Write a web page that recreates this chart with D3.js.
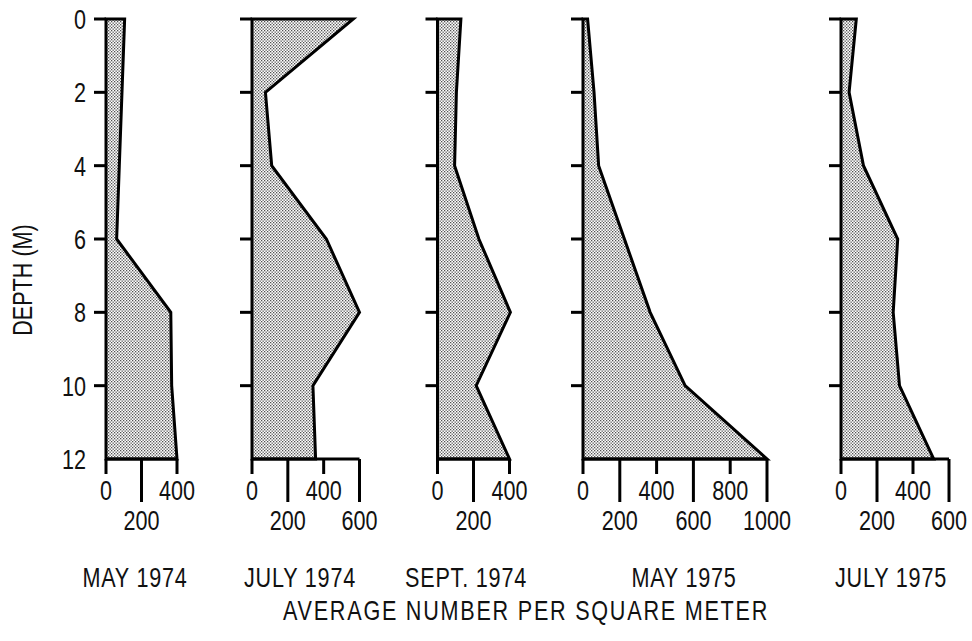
<!DOCTYPE html>
<html>
<head>
<meta charset="utf-8">
<script src="https://cdn.jsdelivr.net/npm/d3@7"></script>
<style>
  body { margin: 0; background: #fff; }
  text { font-family: "Liberation Sans", Arial, sans-serif; fill: #111; }
</style>
</head>
<body>
<svg id="chart" width="972" height="641"></svg>
<script>
// sampling months (one panel each)
const months = ['MAY 1974', 'JULY 1974', 'SEPT. 1974', 'MAY 1975', 'JULY 1975'];
const depths = [0, 2, 4, 6, 8, 10, 12];

// average number per square meter at each depth
const may1974  = [105, 90, 75, 60, 365, 370, 400];
const july1974 = [565, 75, 110, 415, 600, 340, 355];
const sept1974 = [130, 105, 95, 230, 405, 215, 400];
const may1975  = [25, 60, 85, 225, 365, 555, 1000];
const july1975 = [85, 45, 125, 315, 290, 325, 515];
const series = [may1974, july1974, sept1974, may1975, july1975];

// x axis extent and ticks for each panel
const xMax = [400, 600, 400, 1000, 600];
const depthTicks = [0, 2, 4, 6, 8, 10, 12];

// layout
const x0 = [106, 252, 437.5, 583, 841];
const xw = [71, 107.5, 72, 184, 108];
const titleX = [135, 300, 466, 684, 891];
const SX = 0.8; // squeeze text horizontally, the original type is condensed

const svg = d3.select('#chart');

// narrow text helper
function label(parent, x, y, str, anchor, size, rot, ls) {
    return parent.append('text')
        .attr('transform', 'translate(' + x + ',' + y + ')' + (rot ? ' rotate(' + rot + ')' : '') + ' scale(' + SX + ',1)')
        .attr('text-anchor', anchor)
        .attr('font-size', size)
        .attr('letter-spacing', ls || 0)
        .text(str);
}

// stipple fill
const pat = svg.append('defs').append('pattern')
    .attr('id', 'dots')
    .attr('patternUnits', 'userSpaceOnUse')
    .attr('width', 3).attr('height', 3);
pat.append('rect').attr('width', 3).attr('height', 3).attr('fill', '#fff');
pat.append('rect').attr('x', 0).attr('y', 0).attr('width', 1.3).attr('height', 1.3).attr('fill', '#505050');
pat.append('rect').attr('x', 1.5).attr('y', 1.5).attr('width', 1.3).attr('height', 1.3).attr('fill', '#505050');

const y = d3.scaleLinear().domain([0, 12]).range([19, 459]);

series.forEach(function(vals, i) {
    const x = d3.scaleLinear().domain([0, xMax[i]]).range([x0[i], x0[i] + xw[i]]);
    const g = svg.append('g');

    // profile polygon, closed back along the depth axis
    const pts = depths.map(function(d, j) { return [x(vals[j]), y(d)]; });
    pts.unshift([x(0), y(0)]);
    pts.push([x(0), y(12)]);
    g.append('path')
        .attr('d', d3.line()(pts) + 'Z')
        .attr('fill', 'url(#dots)')
        .attr('stroke', '#000')
        .attr('stroke-width', 3)
        .attr('stroke-linejoin', 'miter');

    // depth axis ticks
    g.selectAll('.yt')
        .data(depthTicks.filter(function(d) { return d < 12; }))
        .enter().append('line')
        .attr('x1', x(0) - 12).attr('x2', x(0))
        .attr('y1', function(d) { return y(d); })
        .attr('y2', function(d) { return y(d); })
        .attr('stroke', '#000').attr('stroke-width', 3);

    if (i === 0) {
        depthTicks.forEach(function(d) {
            label(g, 86, y(d) + 10, d, 'end', 27);
        });
    }

    // bottom axis
    g.append('line')
        .attr('x1', x(0)).attr('x2', x(xMax[i]))
        .attr('y1', y(12)).attr('y2', y(12))
        .attr('stroke', '#000').attr('stroke-width', 3);

    const xt = d3.range(0, xMax[i] + 1, 200);
    g.selectAll('.xt')
        .data(xt)
        .enter().append('line')
        .attr('x1', function(d) { return x(d); })
        .attr('x2', function(d) { return x(d); })
        .attr('y1', y(12))
        .attr('y2', function(d, k) { return y(12) + (k % 2 ? 43 : 15); })
        .attr('stroke', '#000').attr('stroke-width', 3);
    xt.forEach(function(d, k) {
        label(g, x(d), k % 2 ? 530 : 500, d, 'middle', 27);
    });

    label(g, titleX[i], 587, months[i], 'middle', 27, 0, 1);
});

label(svg, 32, 280, 'DEPTH (M)', 'middle', 27, -90);
label(svg, 526, 620, 'AVERAGE NUMBER PER SQUARE METER', 'middle', 27, 0, 2.2);
</script>
</body>
</html>
